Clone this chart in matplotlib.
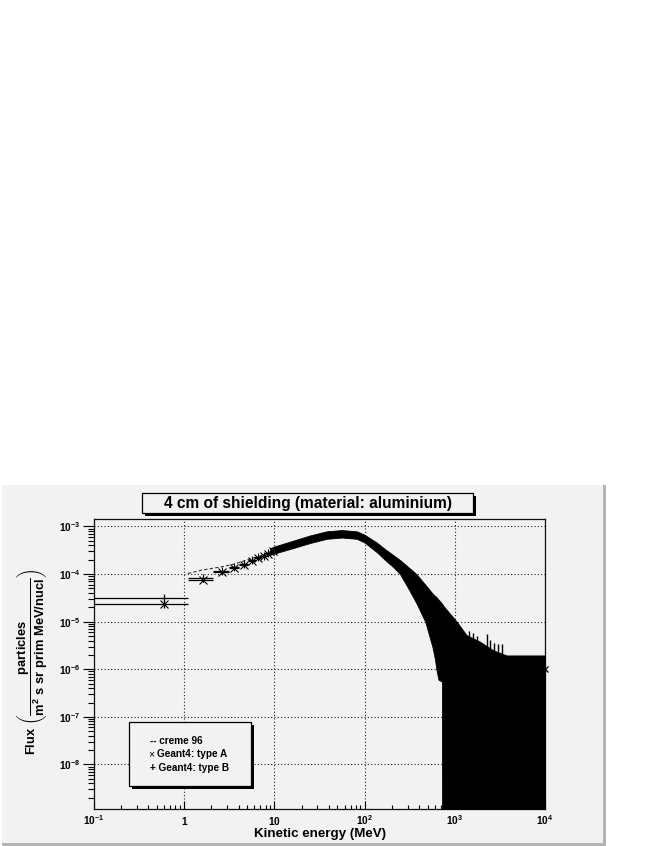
import numpy as np
import matplotlib
matplotlib.use('Agg')
import matplotlib.pyplot as plt
from matplotlib.patches import Rectangle
from matplotlib.ticker import LogLocator, NullFormatter, FixedLocator
from matplotlib.transforms import blended_transform_factory

plt.rcParams['font.family'] = ['Liberation Sans', 'DejaVu Sans']
plt.rcParams['font.weight'] = 'bold'
plt.rcParams['mathtext.fontset'] = 'custom'
plt.rcParams['mathtext.rm'] = 'Liberation Sans:bold'
plt.rcParams['mathtext.bf'] = 'Liberation Sans:bold'
plt.rcParams['mathtext.it'] = 'Liberation Sans:bold'
plt.rcParams['mathtext.sf'] = 'Liberation Sans:bold'

# ---------------- data ----------------
# low-energy bins (1 MeV wide), bin centres in MeV
bin_centres = [0.6, 1.6, 2.6, 3.6, 4.6, 5.6, 6.6, 7.6, 8.6, 9.6]
bin_halfwidth = [0.5, 0.5, 0.5, 0.5, 0.5, 0.5, 0.5, 0.5, 0.5, 0.5]
typeA_flux = [2.34e-5, 7.5e-5, 1.10e-4, 1.33e-4, 1.55e-4, 1.92e-4, 2.15e-4, 2.45e-4, 2.65e-4, 3.0e-4]
typeA_err = [0.4e-5, 0.6e-5, 0.8e-5, 0.9e-5, 1.0e-5, 1.1e-5, 1.2e-5, 1.3e-5, 1.35e-5, 1.45e-5]
typeB_flux = [3.08e-5, 8.35e-5, 1.14e-4, 1.38e-4, 1.62e-4, 2.0e-4, 2.25e-4, 2.38e-4, 2.78e-4, 3.1e-4]
typeB_err = [0.5e-5, 0.7e-5, 0.8e-5, 0.9e-5, 1.0e-5, 1.1e-5, 1.2e-5, 1.3e-5, 1.35e-5, 1.45e-5]

# dense region (thousands of overlapping 1 MeV bins): envelope of the black band
band_E = [9, 10, 16, 25, 38, 56, 82, 100, 136, 170, 208, 247, 300, 375, 470, 566,
          603, 624, 660, 720, 725, 760, 1050, 1350, 1900, 2670, 3760, 10000]
band_hi = [3.5e-4, 3.8e-4, 5.0e-4, 6.5e-4, 7.9e-4, 8.4e-4, 7.9e-4, 6.7e-4, 4.6e-4, 3.3e-4,
           2.5e-4, 1.97e-4, 1.44e-4, 1.0e-4, 6.0e-5, 3.9e-5, 3.5e-5, 3.3e-5, 2.9e-5, 2.4e-5,
           2.35e-5, 2.06e-5, 1.0e-5, 5.2e-6, 3.8e-6, 2.5e-6, 1.95e-6, 1.95e-6]
band_lo = [2.55e-4, 2.7e-4, 3.5e-4, 4.5e-4, 5.5e-4, 5.85e-4, 5.5e-4, 4.6e-4, 2.9e-4, 1.95e-4,
           1.4e-4, 1.0e-4, 5.3e-5, 2.45e-5, 1.0e-5, 2.9e-6, 1.6e-6, 1.0e-6, 6e-7, 5.5e-7,
           1e-10, 1e-10, 1e-10, 1e-10, 1e-10, 1e-10, 1e-10, 1e-10]

# isolated error-bar spikes above the tail
spike_E = [1450, 1600, 1750, 2260, 2450, 2700, 3000, 3300]
spike_top = [6.5e-6, 5.7e-6, 5.0e-6, 5.6e-6, 4.2e-6, 3.6e-6, 3.4e-6, 3.4e-6]

# creme 96 curve
creme_E = [1.1, 1.6, 2.6, 3.6, 4.9, 7, 10, 20, 40, 60, 100, 200, 300]
creme_F = [1.03e-4, 1.22e-4, 1.42e-4, 1.62e-4, 1.97e-4, 2.4e-4, 3.1e-4, 4.6e-4, 6.4e-4,
           6.9e-4, 5.6e-4, 1.9e-4, 7.5e-5]

last_E = [9999.5]
last_F = [1e-6]

xticks = [0.1, 1, 10, 100, 1000, 10000]
xtick_labels = ['10^{-1}', '1', '10', '10^{2}', '10^{3}', '10^{4}']
yticks = [1e-8, 1e-7, 1e-6, 1e-5, 1e-4, 1e-3]
ytick_labels = ['10^{-8}', '10^{-7}', '10^{-6}', '10^{-5}', '10^{-4}', '10^{-3}']

title = '4 cm of shielding (material: aluminium)'
xlabel = 'Kinetic energy (MeV)'
ylabel = (r'$\mathbf{Flux}\ \left(\dfrac{\mathbf{particles}}'
          r'{\mathbf{m^{2}\ s\ sr\ prim\ MeV/nucl}}\right)$')
legend_prefix = ['--', '\u00d7', '+']
legend_text = ['creme 96', 'Geant4: type A', 'Geant4: type B']

# ---------------- figure ----------------
W, H = 654, 846
fig = plt.figure(figsize=(W / 100, H / 100), dpi=100)
fig.patch.set_facecolor('white')
BG = '#f2f2f2'


def fx(px):
    return px / W


def fy(py):
    return 1 - py / H


def frect(x0, y0, x1, y1, **kw):
    r = Rectangle((fx(x0), fy(y1)), fx(x1) - fx(x0), fy(y0) - fy(y1),
                  transform=fig.transFigure, **kw)
    fig.patches.append(r)
    return r


# canvas panel with darker right/bottom bevel
frect(2, 485, 606, 846, facecolor=BG, edgecolor='none', zorder=-10)
frect(603, 485, 606, 846, facecolor='#b4b4b4', edgecolor='none', zorder=-9)
frect(2, 843, 606, 846, facecolor='#b4b4b4', edgecolor='none', zorder=-9)

ax = fig.add_axes([fx(94), fy(809.3), fx(545) - fx(94), fy(518.5) - fy(809.3)])
ax.set_facecolor(BG)
ax.set_xscale('log')
ax.set_yscale('log')
ax.set_xlim(0.1, 1e4)
ax.set_ylim(1.14e-9, 1.47e-3)
for s in ax.spines.values():
    s.set_linewidth(0.9)
    s.set_color('#111111')

ax.xaxis.set_major_locator(FixedLocator(xticks))
ax.xaxis.set_minor_locator(LogLocator(base=10, subs=np.arange(2, 10), numticks=50))
ax.xaxis.set_minor_formatter(NullFormatter())
ax.set_xticklabels([])
ax.yaxis.set_major_locator(FixedLocator(yticks))
ax.yaxis.set_minor_locator(LogLocator(base=10, subs=np.arange(2, 10), numticks=50))
ax.yaxis.set_minor_formatter(NullFormatter())
ax.set_yticklabels([r'$\mathbf{' + t + '}$' for t in ytick_labels], fontsize=7.3)

ax.tick_params(axis='x', which='major', direction='in', length=6, width=0.8,
               top=False, bottom=True)
ax.tick_params(axis='x', which='minor', direction='in', length=3, width=0.8,
               top=False, bottom=True)
ax.tick_params(axis='y', which='major', direction='out', length=8, width=0.8,
               right=False, left=True, pad=1.8)
ax.tick_params(axis='y', which='minor', direction='out', length=4, width=0.8,
               right=False, left=True)

ax.grid(True, which='major', linestyle=(0, (1, 2)), color='#222222', linewidth=0.8)
ax.set_axisbelow(True)

# x tick labels on a common baseline
tr = blended_transform_factory(ax.transData, ax.transAxes)
for xv, lab in zip(xticks, xtick_labels):
    ax.text(xv, -0.054, r'$\mathbf{' + lab + '}$', transform=tr, ha='center',
            va='baseline', fontsize=7.3, clip_on=False)

# ---- data ----
ax.fill_between(band_E, band_lo, band_hi, color='black', linewidth=0.6,
                edgecolor='black', zorder=3)
ax.vlines(spike_E, [1e-6] * len(spike_E), spike_top, color='black', linewidth=1.0, zorder=3)
ax.plot(creme_E, creme_F, linestyle=(0, (3, 2)), color='#333333', linewidth=0.8, zorder=2)
ax.errorbar(bin_centres, typeA_flux, xerr=bin_halfwidth, yerr=typeA_err, fmt='x',
            color='black', ms=5.5, mew=0.8, elinewidth=0.9, capsize=0, zorder=4)
ax.errorbar(bin_centres, typeB_flux, xerr=bin_halfwidth, yerr=typeB_err, fmt='+',
            color='black', ms=6, mew=0.8, elinewidth=0.9, capsize=0, zorder=4)
ax.plot(last_E, last_F, 'x', color='black', ms=5, mew=0.9, clip_on=False, zorder=5)

# ---- axis titles ----
fig.text(fx(319.5), fy(833.5), xlabel, ha='center', va='center', fontsize=9.6,
         fontweight='bold')
fig.text(fx(33), fy(662), ylabel, ha='center', va='center', rotation=90, fontsize=9.3)

# ---- title box ----
frect(144.7, 495.7, 476.3, 515.7, facecolor='black', edgecolor='none', zorder=5)
frect(141.7, 492.7, 473.3, 512.7, facecolor=BG, edgecolor='black', linewidth=0.9, zorder=6)
fig.text(fx(307.5), fy(503), title, ha='center', va='center', fontsize=11.2,
         fontweight='bold', zorder=7)

# ---- legend box ----
frect(132.3, 724.7, 253.7, 789, facecolor='black', edgecolor='none', zorder=5)
frect(129.3, 721.7, 250.7, 786, facecolor=BG, edgecolor='black', linewidth=0.9, zorder=6)
leg_y = [740.7, 754.2, 767.7]
fig.text(fx(149.5), fy(leg_y[0]), legend_prefix[0] + ' ' + legend_text[0], ha='left',
         va='center', fontsize=7.2, fontweight='bold', zorder=7)
fig.text(fx(148.5), fy(leg_y[1]), legend_prefix[1], ha='left', va='center', fontsize=7.6,
         fontweight='normal', zorder=7)
fig.text(fx(157.3), fy(leg_y[1]), legend_text[1], ha='left', va='center', fontsize=7.2,
         fontweight='bold', zorder=7)
fig.text(fx(149.5), fy(leg_y[2]), legend_prefix[2] + ' ' + legend_text[2], ha='left',
         va='center', fontsize=7.2, fontweight='bold', zorder=7)

fig.savefig('out.png', dpi=100, facecolor='white')
